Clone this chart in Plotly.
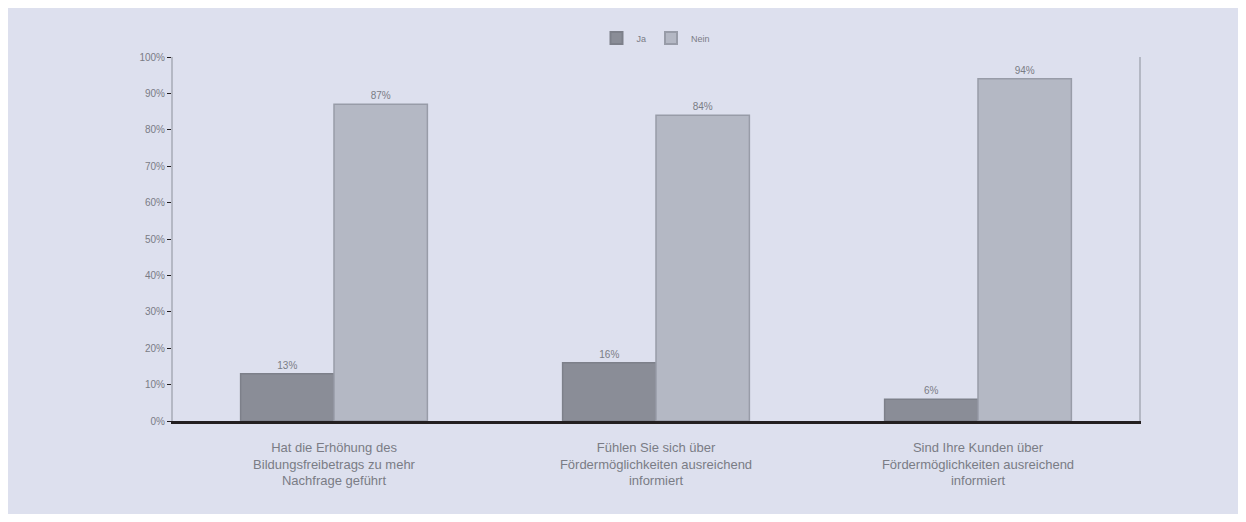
import plotly.graph_objects as go

categories = [
    "Hat die Erhöhung des<br>Bildungsfreibetrags zu mehr<br>Nachfrage geführt",
    "Fühlen Sie sich über<br>Fördermöglichkeiten ausreichend<br>informiert",
    "Sind Ihre Kunden über<br>Fördermöglichkeiten ausreichend<br>informiert",
]
ja_values = [13, 16, 6]
nein_values = [87, 84, 94]
tick_vals = [0, 10, 20, 30, 40, 50, 60, 70, 80, 90, 100]
tick_text = [f"{v}%" for v in tick_vals]

W, H = 1246, 522
L, R, T, B = 173, 107, 57, 101
pw, ph = W - L - R, H - T - B

fig = go.Figure()
fig.add_trace(go.Bar(
    name="Ja", x=categories, y=ja_values,
    marker=dict(color="#8a8d97", line=dict(color="#7d808a", width=1.5)),
    text=[f"{v}%" for v in ja_values], textposition="outside",
    textfont=dict(size=10, color="#7a7c85", family="Liberation Sans"),
    cliponaxis=False,
))
fig.add_trace(go.Bar(
    name="Nein", x=categories, y=nein_values,
    marker=dict(color="#b4b8c4", line=dict(color="#989ca8", width=1.5)),
    text=[f"{v}%" for v in nein_values], textposition="outside",
    textfont=dict(size=10, color="#7a7c85", family="Liberation Sans"),
    cliponaxis=False,
))

# background panel with white frame
fig.add_shape(type="rect", xref="paper", yref="paper", layer="below",
              x0=(8 - L) / pw, x1=(W - 8 - L) / pw,
              y0=-(H - 8 - (H - B)) / ph, y1=(H - B - 8) / ph,
              fillcolor="#dde0ee", line=dict(width=0))

fig.update_layout(
    width=W, height=H,
    margin=dict(l=L, r=R, t=T, b=B, pad=0),
    paper_bgcolor="#ffffff",
    plot_bgcolor="rgba(0,0,0,0)",
    barmode="group",
    bargap=0.42,
    bargroupgap=0,
    showlegend=True,
    legend=dict(orientation="h", x=0.5, xanchor="center", y=(H - B - 38) / ph,
                yanchor="middle", font=dict(size=9, color="#7a7c85", family="Liberation Sans"),
                bgcolor="rgba(0,0,0,0)", itemwidth=30, itemsizing="constant"),
    font=dict(family="Liberation Sans", color="#7a7c85"),
    xaxis=dict(showline=True, linecolor="#231f20", linewidth=3, ticks="",
               tickfont=dict(size=13, color="#7a7c85"), showgrid=False,
               ticklabelstandoff=12),
    yaxis=dict(range=[0, 100], tickvals=tick_vals, ticktext=tick_text,
               showline=True, linecolor="#b4b8c4", linewidth=2, mirror=True,
               ticks="outside", ticklen=4, tickcolor="#231f20",
               tickfont=dict(size=10, color="#7a7c85"), showgrid=False, zeroline=False),
)

fig.write_html("out.html")
